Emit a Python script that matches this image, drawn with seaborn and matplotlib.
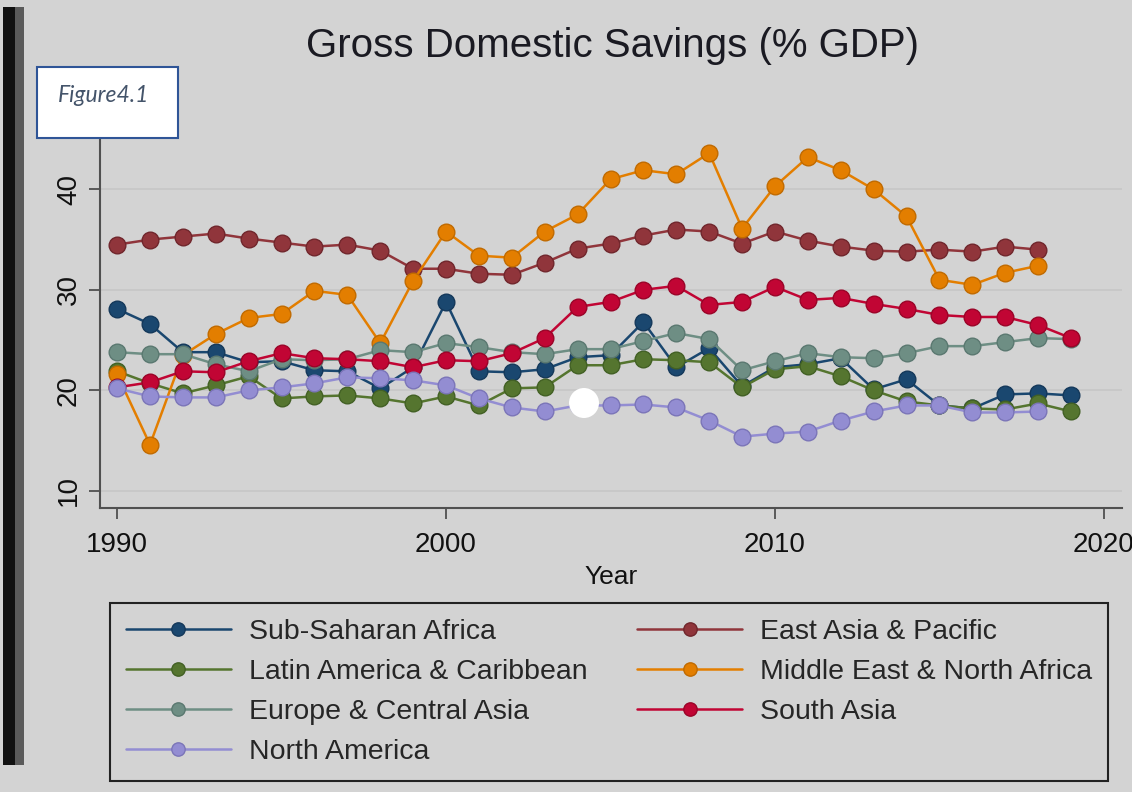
import numpy as np
import pandas as pd
import matplotlib
matplotlib.use("Agg")
import matplotlib.pyplot as plt
from matplotlib.patches import Rectangle, Ellipse
import seaborn as sns

# Данные
years = list(range(1990, 2020))

sub_saharan = [28.1, 26.6, 23.8, 23.8, 22.8, 22.9, 22.0, 21.9, 20.2, 22.3,
               28.8, 21.9, 21.8, 22.1, 23.3, 23.5, 26.8, 22.3, 24.2, 20.4,
               22.3, 22.6, 23.2, 20.1, 21.1, 18.5, 18.2, 19.6, 19.7, 19.5]
east_asia = [34.5, 35.0, 35.3, 35.6, 35.1, 34.7, 34.3, 34.5, 33.9, 32.1,
             32.1, 31.6, 31.5, 32.7, 34.1, 34.6, 35.4, 36.0, 35.8, 34.6,
             35.8, 34.9, 34.3, 33.9, 33.8, 34.0, 33.8, 34.3, 34.0]
latin_america = [21.9, 20.7, 19.7, 20.5, 21.4, 19.2, 19.4, 19.5, 19.2, 18.7,
                 19.4, 18.5, 20.2, 20.3, 22.5, 22.5, 23.1, 23.0, 22.8, 20.3,
                 22.1, 22.4, 21.4, 20.0, 18.9, 18.5, 18.2, 18.1, 18.7, 17.9]
middle_east = [21.6, 14.6, 23.5, 25.6, 27.2, 27.6, 29.9, 29.5, 24.7, 30.9,
               35.8, 33.4, 33.2, 35.8, 37.5, 41.0, 41.9, 41.5, 43.6, 36.1,
               40.3, 43.2, 41.9, 40.0, 37.3, 31.0, 30.5, 31.7, 32.4]
europe = [23.8, 23.6, 23.6, 22.6, 21.9, 23.1, 23.0, 23.1, 24.0, 23.8,
          24.7, 24.3, 23.8, 23.6, 24.1, 24.1, 24.9, 25.7, 25.1, 22.0,
          22.9, 23.7, 23.3, 23.2, 23.7, 24.4, 24.4, 24.8, 25.2, 25.1]
south_asia = [20.3, 20.8, 21.9, 21.8, 22.9, 23.7, 23.2, 23.1, 22.9, 22.3,
              23.0, 22.9, 23.7, 25.2, 28.3, 28.8, 30.0, 30.4, 28.5, 28.8,
              30.3, 29.0, 29.2, 28.6, 28.1, 27.5, 27.3, 27.3, 26.5, 25.2]
north_america = [20.2, 19.4, 19.3, 19.3, 20.0, 20.3, 20.7, 21.3, 21.2, 21.0,
                 20.5, 19.2, 18.3, 17.9, 18.5, 18.5, 18.6, 18.3, 17.0, 15.4,
                 15.7, 15.9, 17.0, 17.9, 18.5, 18.5, 17.8, 17.8, 17.9]

# Порядок рисования (как в Stata) и цвета s2color
regions = ["Sub-Saharan Africa", "East Asia & Pacific", "Latin America & Caribbean",
           "Middle East & North Africa", "Europe & Central Asia", "South Asia",
           "North America"]
series = [sub_saharan, east_asia, latin_america, middle_east, europe,
          south_asia, north_america]
colors = ["#1a476f", "#90353b", "#55752f", "#e37e00", "#6e8e84", "#c10534", "#938dd2"]
edge_colors = ["#14385a", "#70262c", "#426024", "#c06a00", "#5a7870", "#9a0428", "#7b75b8"]

frames = []
for name, vals in zip(regions, series):
    frames.append(pd.DataFrame({"Year": years[:len(vals)], "Value": vals, "Region": name}))
df = pd.concat(frames, ignore_index=True)

bg = "#d3d3d3"
sns.set_style("white")
plt.rcParams["font.family"] = ["Liberation Sans", "DejaVu Sans"]

fig = plt.figure(figsize=(11.32, 7.92), dpi=100, facecolor=bg)
W, H = 1132, 792
ax = fig.add_axes([100 / W, 1 - 508 / H, (1122 - 100) / W, (508 - 130) / H])
ax.set_facecolor(bg)

for name, c, ec in zip(regions, colors, edge_colors):
    sub = df[df["Region"] == name]
    sns.lineplot(data=sub, x="Year", y="Value", color=c, marker="o", markersize=12,
                 markeredgecolor=ec, markeredgewidth=1, linewidth=1.8,
                 label=name, ax=ax)

ax.set_xlim(1989.48, 2020.55)
ax.set_ylim(8.3, 45.9)
ax.set_xticks([1990, 2000, 2010, 2020])
ax.set_yticks([10, 20, 30, 40])
ax.yaxis.grid(True, color="#c6c6c6", linewidth=1.2)
ax.set_axisbelow(True)
for s in ["top", "right"]:
    ax.spines[s].set_visible(False)
for s in ["left", "bottom"]:
    ax.spines[s].set_color("#505050")
    ax.spines[s].set_linewidth(1.5)
ax.tick_params(axis="both", direction="out", length=8, width=1.3, color="#505050",
               labelsize=20, labelcolor="#111111", left=True, bottom=True)
ax.tick_params(axis="x", pad=9)
ax.tick_params(axis="y", pad=5)
plt.setp(ax.get_yticklabels(), rotation=90, va="center")
ax.set_xlabel("Year", fontsize=19, color="#111111", labelpad=5)
ax.set_ylabel("")

# Легенда: две колонки в порядке Stata
handles, labels = ax.get_legend_handles_labels()
order = [0, 2, 4, 6, 1, 3, 5]
if ax.get_legend():
    ax.get_legend().remove()
leg = fig.legend([handles[i] for i in order], [labels[i] for i in order],
                 loc="upper left",
                 bbox_to_anchor=(110 / W, 1 - 775 / H, (1108 - 110) / W, 172 / H),
                 mode="expand", borderaxespad=0,
                 ncol=2, fontsize=20.5, frameon=True, fancybox=False,
                 facecolor=bg, edgecolor="#222222", framealpha=1,
                 handlelength=3.7, handletextpad=0.63, columnspacing=2.0,
                 labelspacing=0.5, borderpad=0.55, markerscale=0.8)
leg.get_frame().set_linewidth(1.5)

# Заголовок
fig.text(612 / W, 1 - 46 / H, "Gross Domestic Savings (% GDP)", fontsize=29,
         color="#1a1a22", ha="center", va="center")

# Вставка "Figure4.1"
fig.patches.append(Rectangle((37 / W, 1 - 138 / H), 141 / W, 71 / H,
                             transform=fig.transFigure, facecolor="white",
                             edgecolor="#2f5597", linewidth=1.5, zorder=5))
fig.text(58 / W, 1 - 95 / H, "Figure4.1", fontsize=16.5, style="italic",
         family=["Lato", "DejaVu Sans"], color="#44546a", ha="left", va="center", zorder=6)

# Края скриншота
fig.patches.append(Rectangle((3 / W, 1 - 765 / H), 12 / W, 758 / H,
                             transform=fig.transFigure, facecolor="#111111",
                             edgecolor="none", zorder=4))
fig.patches.append(Rectangle((15 / W, 1 - 765 / H), 9 / W, 758 / H,
                             transform=fig.transFigure, facecolor="#5a5a5a",
                             edgecolor="none", zorder=4))
fig.patches.append(Ellipse((584 / W, 1 - 403 / H), 30 / W, 30 / H, transform=fig.transFigure,
                           facecolor="white", edgecolor="none", zorder=10))

fig.savefig("out.png", dpi=100, facecolor=bg)
